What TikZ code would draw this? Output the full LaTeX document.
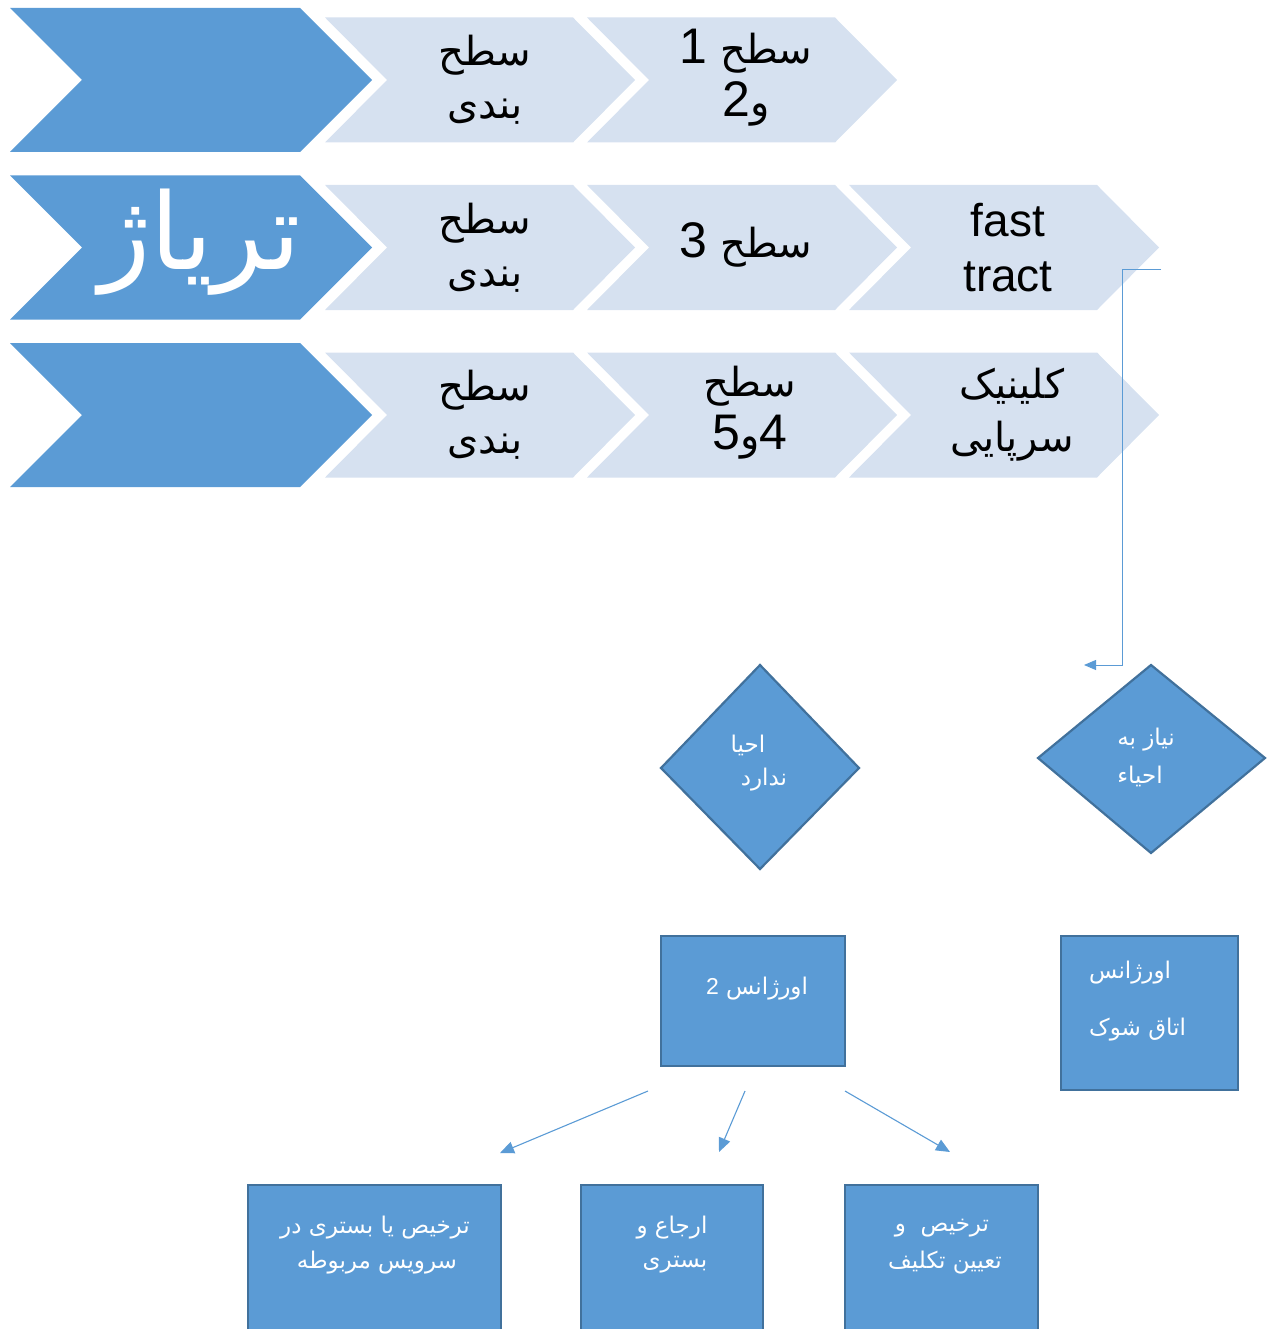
\documentclass[tikz,border=0pt]{standalone}
\usepackage{fontspec}
\usetikzlibrary{arrows.meta}
\TeXXeTstate=1
\newfontfamily\arfont[Script=Arabic]{DejaVu Sans}
\newfontfamily\latfont{Liberation Sans}
\newcommand\digit[1]{{\latfont\fontsize{50}{53}\selectfont #1}}
\definecolor{accent}{HTML}{5B9BD5}
\definecolor{pale}{HTML}{D6E1F0}
\definecolor{edge}{HTML}{41719C}

\begin{document}
\begin{tikzpicture}[x=1pt,y=-1pt,
  bigchev/.style={fill=accent},
  smallchev/.style={fill=pale},
  chevtext/.style={text=black, align=center, inner sep=0pt,
    font=\arfont\fontsize{40}{53}\selectfont},
  flowshape/.style={fill=accent, draw=edge, line width=2.2pt},
  whitetext/.style={text=white, inner sep=0pt,
    font=\arfont\fontsize{23}{30}\selectfont},
  link/.style={draw=accent, line width=1.1pt,
    -{Triangle[length=14pt,width=12pt]}},
]
\clip (0,0) rectangle (1272,1329);

% dark chevrons on the left of each row
\foreach \yc in {80,247.5,415} {
  \fill[bigchev] (10,\yc-72) -- (300,\yc-72) -- (372,\yc) -- (300,\yc+72)
    -- (10,\yc+72) -- (82,\yc) -- cycle;
}
% pale chevrons
\foreach \L/\yc in {325/80,587/80,325/247.5,587/247.5,849/247.5,325/415,587/415,849/415} {
  \fill[smallchev] (\L,\yc-62.5) -- (\L+248,\yc-62.5) -- (\L+310,\yc)
    -- (\L+248,\yc+62.5) -- (\L,\yc+62.5) -- (\L+62,\yc) -- cycle;
}

% chevron labels
\node[text=white, inner sep=0pt, font=\arfont\fontsize{106}{120}\selectfont]
  (title) at (200,242) {\beginR تریاژ\endR};
\node[chevtext] (r1a) at (485,80) {\beginR سطح\endR\\\beginR بندی\endR};
\node[chevtext] (r1b) at (746,78) {\beginR سطح \digit{1}\endR\\\beginR و\digit{2}\endR};
\node[chevtext] (r2a) at (485,247.5) {\beginR سطح\endR\\\beginR بندی\endR};
\node[chevtext] (r2b) at (746,245) {\beginR سطح \digit{3}\endR};
\node[chevtext, font=\latfont\fontsize{46}{55}\selectfont] (r2c) at (1008,247.5) {fast\\tract};
\node[chevtext] (r3a) at (485,415) {\beginR سطح\endR\\\beginR بندی\endR};
\node[chevtext] (r3b) at (750,413) {\beginR سطح\endR\\\beginR \digit{4}و\digit{5}\endR};
\node[chevtext] (r3c) at (1012,415) {\beginR کلینیک\endR\\\beginR سرپایی\endR};

% decision diamonds
\draw[flowshape] (760,665) -- (859,768) -- (760,869) -- (661,768) -- cycle;
\node[whitetext] (d1a) at (748,745) {\beginR احیا\endR};
\node[whitetext] (d1b) at (764,780) {\beginR ندارد\endR};
\draw[flowshape] (1151,665) -- (1265,758) -- (1151,853) -- (1038,758) -- cycle;
\node[whitetext] (d2a) at (1146,740) {\beginR نیاز به\endR};
\node[whitetext] (d2b) at (1140,776) {\beginR احیاء\endR};

% emergency boxes
\node[flowshape, minimum width=184pt, minimum height=130pt, inner sep=0pt] (u2) at (753,1001) {};
\node[whitetext] (u2t) at (757,989) {\beginR اورژانس {\latfont 2}\endR};
\node[flowshape, minimum width=177pt, minimum height=154pt, inner sep=0pt] (shock) at (1149.5,1013) {};
\node[whitetext, anchor=west] (shock1) at (1089,973) {\beginR اورژانس\endR};
\node[whitetext, anchor=west] (shock2) at (1089,1030) {\beginR اتاق شوک\endR};

% outcome boxes
\node[flowshape, minimum width=253pt, minimum height=160pt, inner sep=0pt, anchor=north west] (oa) at (247,1184) {};
\node[whitetext] (oa1) at (375,1228) {\beginR ترخیص یا بستری در\endR};
\node[whitetext] (oa2) at (377,1263) {\beginR سرویس مربوطه\endR};
\node[flowshape, minimum width=182pt, minimum height=160pt, inner sep=0pt, anchor=north west] (ob) at (580,1184) {};
\node[whitetext] (ob1) at (672,1228) {\beginR ارجاع و\endR};
\node[whitetext] (ob2) at (675,1265) {\beginR بستری\endR};
\node[flowshape, minimum width=193pt, minimum height=160pt, inner sep=0pt, anchor=north west] (oc) at (844,1184) {};
\node[whitetext] (oc1) at (942,1228) {\beginR ترخیص~~و\endR};
\node[whitetext] (oc2) at (945,1263) {\beginR تعیین تکلیف\endR};

% connectors
\coordinate (fs) at (1161,269);
\coordinate (knee) at (1122,269);
\coordinate (fe) at (1084,665);
\draw[link, line width=0.9pt, -{Triangle[length=12pt,width=10pt]}] (fs) -- (knee) |- (fe);

\coordinate (a1s) at (648,1091); \coordinate (a1e) at (500,1153);
\coordinate (a2s) at (745,1091); \coordinate (a2e) at (719,1152);
\coordinate (a3s) at (845,1091); \coordinate (a3e) at (950,1152);
\draw[link] (a1s) -- (a1e);
\draw[link] (a2s) -- (a2e);
\draw[link] (a3s) -- (a3e);
\end{tikzpicture}
\end{document}
